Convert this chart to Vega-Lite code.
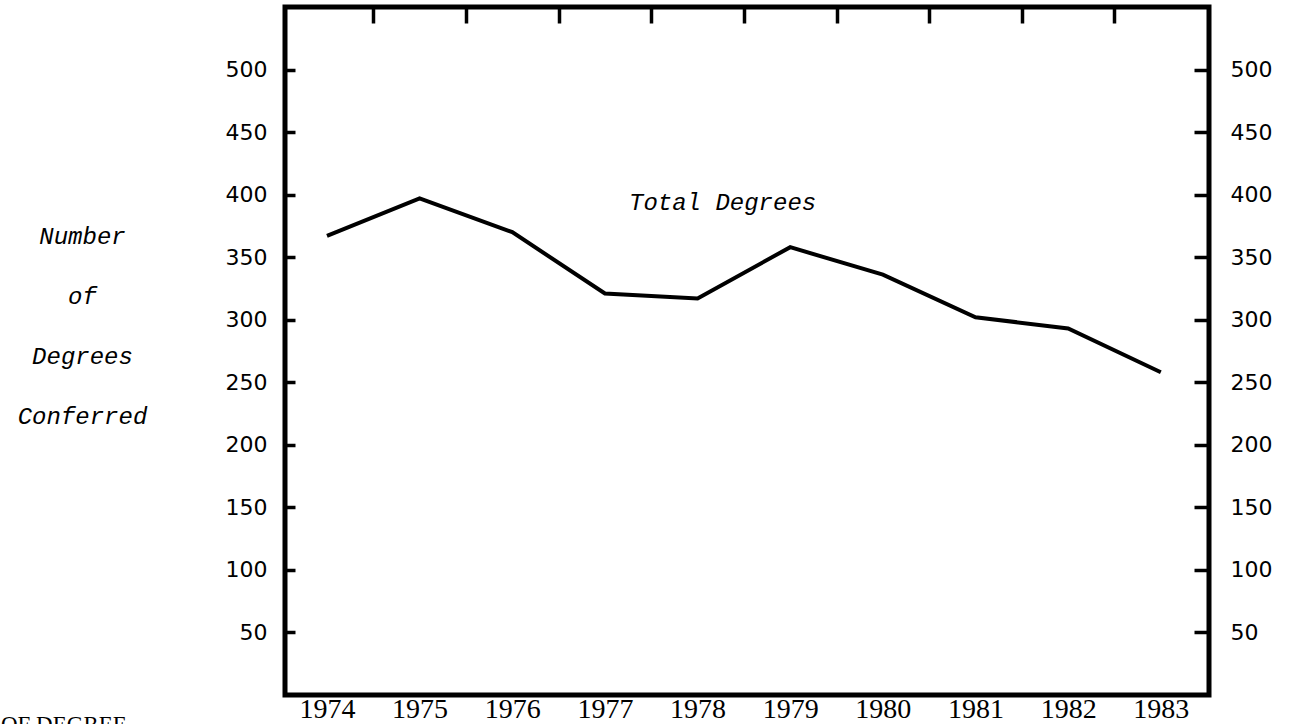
{
  "$schema": "https://vega.github.io/schema/vega-lite/v6.json",
  "width": 924,
  "height": 688,
  "autosize": "none",
  "padding": {"left": 285, "top": 7, "right": 81, "bottom": 29},
  "background": "white",
  "config": {
    "view": {"stroke": "black", "strokeWidth": 5},
    "axis": {"domain": false, "grid": false, "tickColor": "black", "labelColor": "black", "tickWidth": 3.5}
  },
  "resolve": {"axis": {"x": "independent", "y": "independent"}},
  "layer": [
    {
      "data": {"values": [
        {"year": 1974, "degrees": 367},
        {"year": 1975, "degrees": 397},
        {"year": 1976, "degrees": 370},
        {"year": 1977, "degrees": 321},
        {"year": 1978, "degrees": 317},
        {"year": 1979, "degrees": 358},
        {"year": 1980, "degrees": 336},
        {"year": 1981, "degrees": 302},
        {"year": 1982, "degrees": 293},
        {"year": 1983, "degrees": 258}
      ]},
      "mark": {"type": "line", "color": "black", "strokeWidth": 4},
      "encoding": {
        "x": {
          "field": "year", "type": "quantitative",
          "scale": {"domain": [1973.547, 1983.52], "nice": false, "zero": false},
          "axis": {
            "orient": "bottom", "title": null,
            "values": [1974, 1974.5, 1975, 1975.5, 1976, 1976.5, 1977, 1977.5, 1978, 1978.5, 1979, 1979.5, 1980, 1980.5, 1981, 1981.5, 1982, 1982.5, 1983],
            "format": "d",
            "labelExpr": "datum.value % 1 === 0 ? datum.label : ''",
            "tickOpacity": {"condition": {"test": "datum.value % 1 === 0", "value": 0}, "value": 1},
            "tickSize": -12, "labelPadding": 12,
            "labelOverlap": false, "labelFlush": false, "labelBound": false,
            "labelFont": "Liberation Serif", "labelFontSize": 28
          }
        },
        "y": {
          "field": "degrees", "type": "quantitative",
          "scale": {"domain": [0, 550], "nice": false},
          "axis": {
            "orient": "left",
            "values": [50, 100, 150, 200, 250, 300, 350, 400, 450, 500],
            "tickSize": -10, "labelPadding": 28,
            "labelFont": "DejaVu Sans", "labelFontSize": 22,
            "title": ["Number", "of", "Degrees", "Conferred"],
            "titleAngle": 0, "titleAlign": "center", "titleBaseline": "middle",
            "titleX": -203, "titleY": 229,
            "titleFont": "Liberation Mono", "titleFontStyle": "italic", "titleFontWeight": "normal",
            "titleFontSize": 24, "titleLineHeight": 60, "titleColor": "black"
          }
        }
      }
    },
    {
      "data": {"values": [{"label": "Total Degrees", "year": 1978.27, "degrees": 393}]},
      "mark": {"type": "text", "font": "Liberation Mono", "fontStyle": "italic", "fontSize": 24, "align": "center", "baseline": "middle", "color": "black"},
      "encoding": {
        "x": {
          "field": "year", "type": "quantitative",
          "axis": {
            "orient": "top", "title": null, "labels": false,
            "values": [1974.5, 1975.5, 1976.5, 1977.5, 1978.5, 1979.5, 1980.5, 1981.5, 1982.5],
            "tickSize": -16
          }
        },
        "y": {
          "field": "degrees", "type": "quantitative",
          "axis": {
            "orient": "right", "title": null,
            "values": [50, 100, 150, 200, 250, 300, 350, 400, 450, 500],
            "tickSize": -15, "labelPadding": 36,
            "labelFont": "DejaVu Sans", "labelFontSize": 22
          }
        },
        "text": {"field": "label"}
      }
    },
    {
      "data": {"values": [{"label": "OF DEGREE", "year": 1971.84, "degrees": -15.2}]},
      "mark": {"type": "text", "font": "Liberation Serif", "fontSize": 23, "align": "right", "baseline": "top", "color": "black"},
      "encoding": {
        "x": {"field": "year", "type": "quantitative", "axis": null},
        "y": {"field": "degrees", "type": "quantitative", "axis": null},
        "text": {"field": "label"}
      }
    }
  ]
}
